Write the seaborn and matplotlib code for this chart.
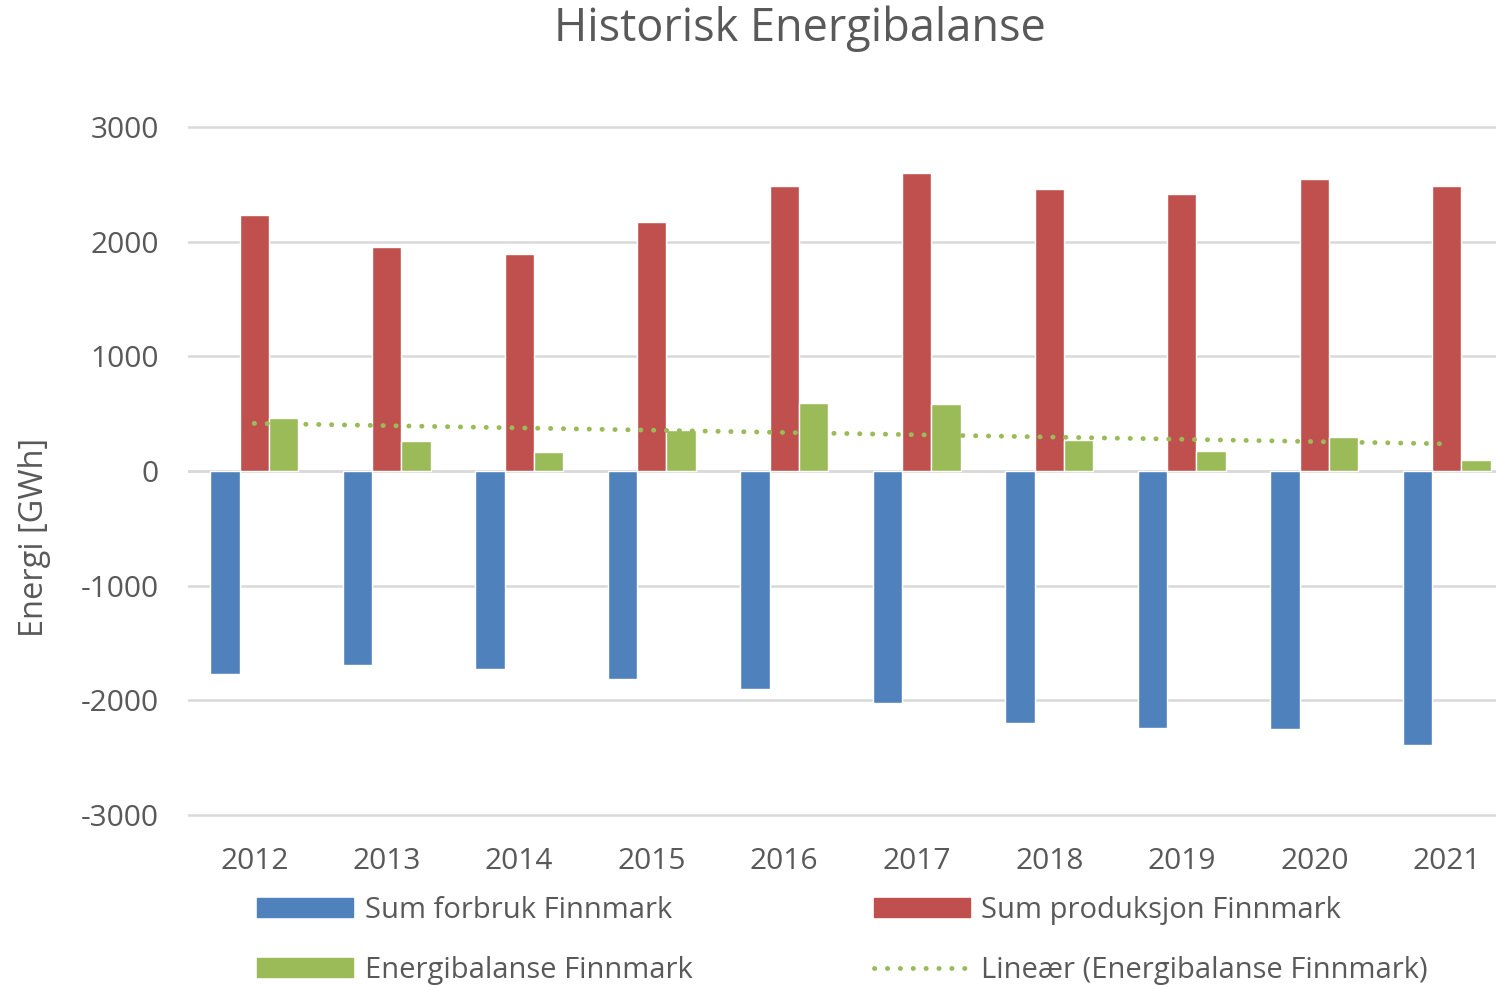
import pandas as pd
import matplotlib.pyplot as plt
import numpy as np
import seaborn as sns
from matplotlib.patches import Patch
from matplotlib.lines import Line2D

years = ["2012", "2013", "2014", "2015", "2016", "2017", "2018", "2019", "2020", "2021"]
forbruk = [-1770, -1692, -1727, -1814, -1901, -2023, -2198, -2241, -2250, -2389]
produksjon = [2232, 1953, 1892, 2171, 2485, 2599, 2459, 2416, 2546, 2485]
balanse = [462, 265, 165, 360, 590, 580, 268, 174, 297, 100]

series_names = ["Sum forbruk Finnmark", "Sum produksjon Finnmark", "Energibalanse Finnmark"]
trend_name = "Lineær (Energibalanse Finnmark)"
colors = ["#4F81BD", "#C0504D", "#9BBB59"]
TXT = "#595959"

df = pd.DataFrame({
    "year": years * 3,
    "serie": [series_names[0]] * 10 + [series_names[1]] * 10 + [series_names[2]] * 10,
    "value": forbruk + produksjon + balanse,
})

sns.set_style("white")
plt.rcParams["font.family"] = ["Open Sans", "DejaVu Sans"]
plt.rcParams["axes.unicode_minus"] = False

fig = plt.figure(figsize=(14.96, 9.85), dpi=100)
ax = fig.add_axes([188 / 1496, 158.5 / 985, 1325 / 1496, 711 / 985])

sns.barplot(data=df, x="year", y="value", hue="serie", hue_order=series_names,
            palette=colors, width=0.664, gap=0, saturation=1, ax=ax, legend=False)

# linear trend of the balance
xs = np.arange(len(years))
k, m = np.polyfit(xs, np.array(balanse), 1)
ax.plot(xs, k * xs + m, color="#9BBB59", lw=3.5, linestyle=(0, (0.05, 2.6)),
        dash_capstyle="round", zorder=5)

ax.set_xlim(-0.5, 9.5)
ax.set_ylim(-3100, 3100)
ax.set_yticks([-3000, -2000, -1000, 0, 1000, 2000, 3000])
ax.yaxis.grid(True, color="#d9d9d9", lw=1.8)
ax.set_axisbelow(True)
for s in ax.spines.values():
    s.set_visible(False)
ax.axhline(0, color="#d9d9d9", lw=1.8, zorder=0.5)
ax.set_xlabel("")
ax.set_ylabel("")
ax.tick_params(axis="both", length=0, labelsize=21.5, labelcolor=TXT)
ax.tick_params(axis="x", pad=15)
ax.tick_params(axis="y", pad=21)

fig.text(35 / 1496, 1 - 537 / 985, "Energi [GWh]", rotation=90, ha="center", va="center",
         fontsize=23.5, color=TXT)
fig.text(800 / 1496, 1 - 29 / 985, "Historisk Energibalanse", ha="center", va="center",
         fontsize=32.5, color=TXT)

handles = [Patch(color=colors[0]), Patch(color=colors[2]), Patch(color=colors[1]),
           Line2D([], [], color="#9BBB59", lw=3.5, linestyle=(0, (0.05, 2.6)), dash_capstyle="round")]
labels = [series_names[0], series_names[2], series_names[1], trend_name]
leg = fig.legend(handles, labels, ncol=2, loc="upper left", bbox_to_anchor=(257 / 1496, 1 - 896 / 985),
                 frameon=False, fontsize=21, handlelength=3.3, handleheight=0.62,
                 handletextpad=0.4, columnspacing=6.2, labelspacing=1.05, borderaxespad=0, borderpad=0)
for t in leg.get_texts():
    t.set_color(TXT)

fig.savefig("out.png", dpi=100)
